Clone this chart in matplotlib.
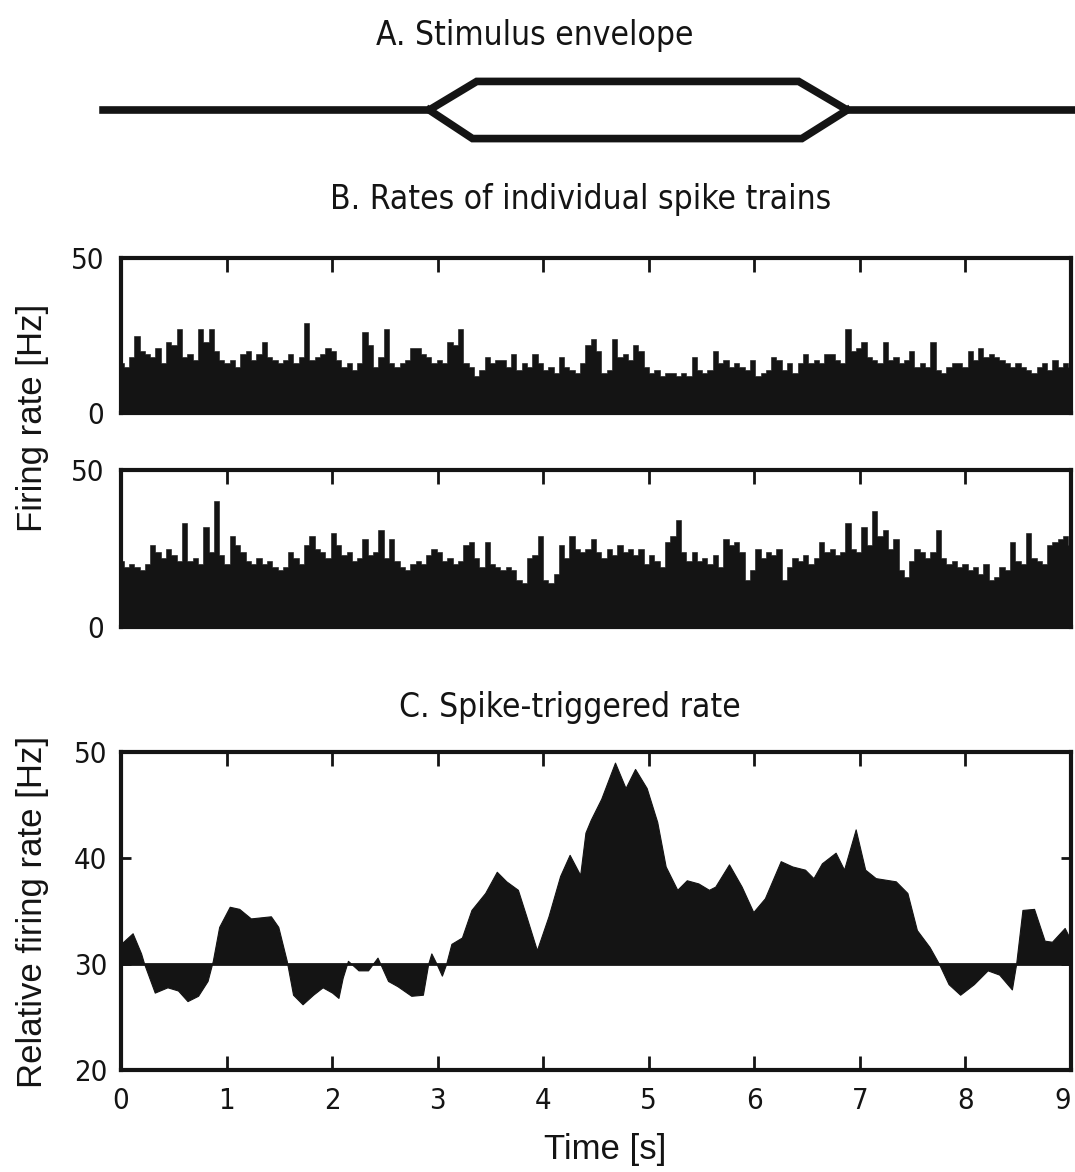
import numpy as np
import matplotlib
matplotlib.use("Agg")
import matplotlib.pyplot as plt
from matplotlib import font_manager
from matplotlib.font_manager import FontProperties

# look for a condensed sans face for titles and tick labels
pref = ['LiberationSansNarrow-Regular', 'NotoSans-Condensed.', 'NotoSans-SemiCondensed.',
        'DejaVuSansCondensed.', 'RobotoCondensed-Regular', 'OpenSans-CondRegular',
        'OpenSansCondensed-Regular']
narrow_file = None
for p in pref:
    for f in font_manager.fontManager.ttflist:
        if p in f.fname:
            narrow_file = f.fname
            break
    if narrow_file:
        break
if narrow_file is None:
    for f in font_manager.fontManager.ttflist:
        if f.stretch in ('condensed', 'semi-condensed') and f.style == 'normal' and f.weight in (400, 'normal', 'regular'):
            narrow_file = f.fname
            break


def nfont(size):
    if narrow_file:
        return FontProperties(fname=narrow_file, size=size)
    return FontProperties(family='DejaVu Sans', size=size)


plain = 'Liberation Sans'

# A. stimulus envelope (time [s], relative amplitude)
env_x = [-0.17, 2.92, 3.37, 6.42, 6.88, 9.03]
env_upper = [0, 0, 1, 1, 0, 0]
env_lower_x = [2.92, 3.33, 6.45, 6.88]
env_lower = [0, -1, -1, 0]

# B. rates of individual spike trains [Hz], read every 0.05 s
rate1 = [16, 15, 18, 25, 20, 19, 18, 21, 16, 23, 22, 27, 18, 19, 17, 27, 23, 27, 20, 17,
         16, 17, 15, 19, 20, 17, 19, 23, 18, 17, 16, 17, 19, 16, 18, 29, 17, 18, 19, 21,
         20, 17, 15, 16, 14, 16, 26, 22, 15, 18, 27, 16, 15, 16, 17, 21, 21, 19, 18, 16,
         17, 16, 23, 22, 27, 16, 15, 12, 14, 18, 16, 17, 17, 15, 19, 14, 16, 15, 19, 16,
         14, 15, 13, 18, 15, 14, 13, 16, 22, 24, 20, 13, 14, 24, 18, 19, 17, 22, 20, 15,
         13, 14, 12, 13, 13, 12, 13, 12, 18, 14, 13, 14, 20, 16, 17, 15, 16, 15, 14, 17,
         12, 13, 14, 18, 17, 14, 16, 13, 16, 19, 16, 17, 16, 19, 19, 17, 16, 27, 20, 21,
         23, 18, 17, 16, 23, 17, 18, 16, 17, 20, 15, 16, 15, 23, 14, 13, 15, 16, 16, 15,
         20, 17, 21, 18, 19, 18, 17, 16, 15, 16, 15, 14, 13, 15, 16, 14, 17, 15, 16, 15]
rate2 = [21, 19, 20, 19, 18, 20, 26, 24, 22, 25, 23, 21, 33, 21, 22, 20, 32, 24, 40, 23,
         20, 29, 26, 24, 21, 20, 22, 20, 21, 19, 18, 19, 24, 22, 20, 26, 29, 25, 24, 22,
         30, 26, 23, 24, 21, 22, 28, 23, 24, 31, 22, 28, 21, 19, 18, 20, 21, 20, 23, 25,
         24, 21, 22, 20, 21, 26, 27, 22, 19, 27, 20, 19, 18, 19, 18, 15, 14, 22, 23, 29,
         15, 14, 17, 26, 22, 29, 25, 24, 25, 28, 24, 22, 25, 23, 26, 24, 25, 23, 25, 20,
         23, 21, 19, 27, 29, 34, 24, 21, 24, 21, 22, 20, 23, 19, 28, 26, 27, 24, 15, 18,
         25, 22, 24, 23, 25, 15, 19, 22, 21, 23, 20, 22, 27, 24, 25, 23, 24, 33, 25, 24,
         32, 26, 37, 29, 31, 25, 28, 18, 16, 21, 25, 24, 22, 24, 31, 22, 20, 21, 19, 20,
         18, 19, 17, 20, 15, 16, 19, 18, 27, 21, 20, 30, 22, 21, 20, 26, 27, 28, 29, 26]

# C. spike-triggered rate [Hz]
str_t = [0.0, 0.11, 0.19, 0.22, 0.32, 0.44, 0.54, 0.63, 0.73, 0.82, 0.87, 0.93, 1.03, 1.12,
         1.23, 1.42, 1.49, 1.57, 1.63, 1.72, 1.82, 1.91, 2.0, 2.06, 2.10, 2.15, 2.25, 2.34,
         2.43, 2.53, 2.62, 2.75, 2.86, 2.91, 2.94, 2.99, 3.04, 3.08, 3.13, 3.23, 3.32, 3.45,
         3.56, 3.65, 3.76, 3.84, 3.94, 4.05, 4.16, 4.25, 4.35, 4.40, 4.45, 4.55, 4.68, 4.78,
         4.87, 4.98, 5.08, 5.16, 5.27, 5.36, 5.47, 5.57, 5.63, 5.76, 5.88, 5.99, 6.10, 6.25,
         6.36, 6.48, 6.56, 6.64, 6.77, 6.85, 6.96, 7.05, 7.15, 7.34, 7.45, 7.54, 7.66, 7.75,
         7.84, 7.95, 8.08, 8.21, 8.32, 8.44, 8.48, 8.54, 8.65, 8.75, 8.82, 8.94, 9.0]
str_rate = [31.9, 32.9, 31.0, 30.0, 27.3, 27.8, 27.5, 26.5, 27.0, 28.4, 30.3, 33.5, 35.4, 35.2,
            34.3, 34.5, 33.5, 30.3, 27.1, 26.2, 27.1, 27.8, 27.3, 26.8, 28.7, 30.3, 29.4, 29.4,
            30.6, 28.4, 27.9, 27.0, 27.1, 30.0, 31.0, 30.0, 28.9, 30.0, 31.9, 32.5, 35.1, 36.7,
            38.7, 37.8, 37.0, 34.5, 31.3, 34.5, 38.3, 40.3, 38.4, 42.4, 43.6, 45.6, 49.0, 46.6,
            48.4, 46.6, 43.4, 39.2, 37.0, 37.9, 37.6, 37.0, 37.3, 39.4, 37.3, 34.9, 36.2, 39.7,
            39.2, 38.9, 38.1, 39.5, 40.5, 38.9, 42.7, 38.9, 38.1, 37.8, 36.7, 33.2, 31.6, 30.0,
            28.1, 27.1, 28.1, 29.4, 29.0, 27.6, 30.0, 35.1, 35.2, 32.2, 32.1, 33.4, 32.2]
baseline = 30

ink = '#141414'
W, H = 1075, 1172
fig = plt.figure(figsize=(W / 100, H / 100), dpi=100)


def box(l, t, r, b):
    return [l / W, 1 - b / H, (r - l) / W, (b - t) / H]


def frame(ax):
    for s in ax.spines.values():
        s.set_linewidth(3)
        s.set_color(ink)
    ax.tick_params(direction='in', colors=ink, width=2, length=10,
                   top=True, right=True)
    for lab in ax.get_xticklabels() + ax.get_yticklabels():
        lab.set_fontproperties(nfont(21))


# panel A
axA = fig.add_axes(box(121, 70, 1071, 150))
axA.plot(env_x, env_upper, color=ink, lw=5.5, clip_on=False, solid_joinstyle='miter')
axA.plot(env_lower_x, env_lower, color=ink, lw=5.5, clip_on=False, solid_joinstyle='miter')
axA.set_xlim(0, 9)
axA.set_ylim(-1.4, 1.4)
axA.axis('off')

# panel B
for trace, (t, b) in zip([rate1, rate2], [(258, 413), (470, 627)]):
    ax = fig.add_axes(box(121, t, 1071, b))
    tx = np.linspace(0, 9, len(trace))
    ax.fill_between(tx, 0, trace, color=ink, lw=0.4, step='mid')
    ax.set_xlim(0, 9)
    ax.set_ylim(0, 50)
    ax.set_xticks(range(1, 9))
    ax.set_xticklabels([])
    ax.set_yticks([0, 50])
    ax.set_yticklabels(['0', '50'])
    frame(ax)
    ax.tick_params(axis='y', length=0, pad=12)

# panel C
axC = fig.add_axes(box(121, 752, 1071, 1070))
axC.fill_between(str_t, baseline, str_rate, color=ink, lw=0.8)
axC.axhline(baseline, color=ink, lw=2)
axC.set_xlim(0, 9)
axC.set_ylim(20, 50)
axC.set_xticks(range(10))
axC.set_yticks([20, 30, 40, 50])
frame(axC)
axC.tick_params(axis='y', length=7, pad=10)
axC.tick_params(axis='x', pad=12)
axC.get_xticklabels()[-1].set_horizontalalignment('right')

# titles and labels
fig.text(535 / W, 1 - 35 / H, 'A. Stimulus envelope', ha='center', va='center',
         fontproperties=nfont(24), color=ink)
fig.text(581 / W, 1 - 200 / H, 'B. Rates of individual spike trains', ha='center', va='center',
         fontproperties=nfont(24), color=ink)
fig.text(570 / W, 1 - 707 / H, 'C. Spike-triggered rate', ha='center', va='center',
         fontproperties=nfont(24), color=ink)
fig.text(33 / W, 1 - 418 / H, 'Firing rate [Hz]', rotation=90, ha='center', va='center',
         fontsize=25, family=plain, color=ink)
fig.text(33 / W, 1 - 912 / H, 'Relative firing rate [Hz]', rotation=90, ha='center', va='center',
         fontsize=25, family=plain, color=ink)
fig.text(605 / W, 1 - 1150 / H, 'Time [s]', ha='center', va='center',
         fontsize=25, family=plain, color=ink)

fig.savefig('out.png', dpi=100)
